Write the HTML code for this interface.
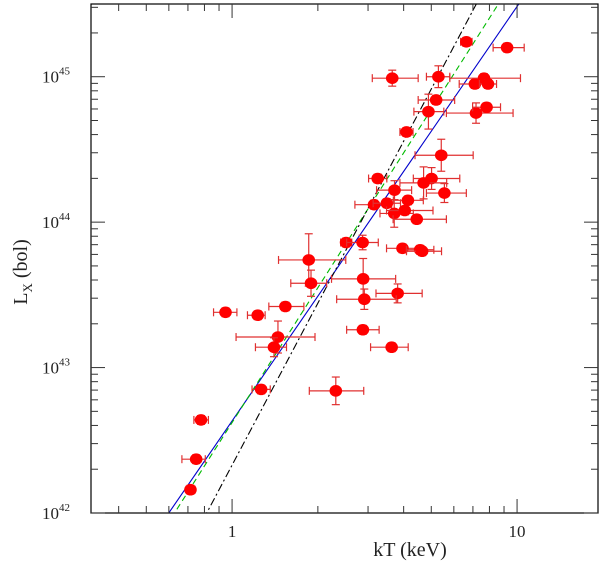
<!DOCTYPE html>
<html><head><meta charset="utf-8"><style>
html,body{margin:0;padding:0;background:#fff;width:600px;height:574px;overflow:hidden;position:relative;}
svg{display:block;position:absolute;left:0;top:0;}
text{font-family:"Liberation Serif",serif;fill:#222;}
</style></head><body>
<svg id="chart" width="600" height="574" viewBox="0 0 600 574" overflow="hidden">
<defs><clipPath id="pc"><rect x="91" y="4" width="507" height="509"/></clipPath></defs>
<g id="lines" clip-path="url(#pc)"></g>
<g id="points"></g>
<g id="axes"></g>
<text x="410" y="556" font-size="20" text-anchor="middle">kT (keV)</text>
<text transform="translate(27,272) rotate(-90)" font-size="20" text-anchor="middle">L<tspan font-size="13" dy="5">X</tspan><tspan dy="-5"> (bol)</tspan></text>
</svg>
<script>
// data (log10 kT, log10 Lx)
const logT = [0.822,0.965,0.562,0.724,0.852,0.884,0.898,0.716,0.689,0.856,0.893,0.612,0.734,0.511,0.700,0.672,0.570,0.745,0.498,0.543,0.617,0.569,0.606,0.648,0.400,0.458,0.598,0.660,0.667,0.269,0.460,0.277,0.581,0.464,0.187,-0.023,0.090,0.459,0.161,0.147,0.560,0.102,0.364,-0.109,-0.126,-0.146];
const logL = [45.24,45.20,44.99,45.00,44.95,44.99,44.95,44.84,44.76,44.75,44.79,44.62,44.46,44.30,44.30,44.27,44.22,44.20,44.12,44.13,44.15,44.06,44.08,44.02,43.86,43.86,43.82,43.81,43.80,43.74,43.61,43.58,43.51,43.47,43.42,43.38,43.36,43.26,43.21,43.14,43.14,42.85,42.84,42.64,42.37,42.16];
// x errors in dex (low, high)
const xErrLo = [0.020,0.049,0.070,0.042,0.055,0.120,0.030,0.063,0.051,0.104,0.049,0.023,0.092,0.032,0.064,0.083,0.063,0.063,0.067,0.048,0.051,0.050,0.064,0.083,0.019,0.056,0.056,0.048,0.055,0.106,0.111,0.071,0.076,0.097,0.058,0.042,0.036,0.057,0.147,0.065,0.074,0.032,0.093,0.025,0.050,0.015];
const xErrHi = [0.020,0.060,0.091,0.040,0.053,0.128,0.030,0.065,0.054,0.130,0.049,0.023,0.112,0.032,0.099,0.081,0.060,0.077,0.062,0.048,0.054,0.067,0.099,0.104,0.020,0.055,0.057,0.048,0.068,0.130,0.114,0.055,0.086,0.112,0.065,0.040,0.026,0.057,0.130,0.044,0.058,0.032,0.098,0.026,0.032,0.016];
// y errors in dex (symmetric approx)
const yErr = [0.03,0.03,0.055,0.075,0.03,0.03,0.03,0.03,0.12,0.07,0.03,0.03,0.11,0.03,0.075,0.11,0.065,0.065,0.03,0.03,0.03,0.095,0.03,0.03,0.03,0.05,0.03,0.03,0.03,0.18,0.14,0.09,0.065,0.07,0.03,0.03,0.03,0.03,0.11,0.065,0.03,0.03,0.095,0.03,0.03,0.03];
// fit lines: slope, intercept (log Lx at log kT = 0)
const lineSlopes = [2.85,3.08,3.70];
const lineIntercepts = [42.633,42.622,42.329];
const lineNames = ['fit-line-blue','fit-line-green-dashed','fit-line-black-dashdot'];
const lineColors = ['#0000cc','#00bb00','#000000'];
const lineDash = ['none','6,4','8,3,2,3'];
const xTickLabels = ['1','10'];
const yTickLabels = ['42','43','44','45'];

const L=91,R=598,T=4,B=513;
const xmin=-0.495,xmax=1.284,ymin=42,ymax=45.5;
const X=v=>L+(v-xmin)/(xmax-xmin)*(R-L);
const Y=v=>B-(v-ymin)/(ymax-ymin)*(B-T);
const NS='http://www.w3.org/2000/svg';
function mk(tag,parent,attrs){const e=document.createElementNS(NS,tag);for(const k in attrs)e.setAttribute(k,attrs[k]);parent.appendChild(e);return e;}

const gl=document.getElementById('lines');
lineSlopes.forEach((s,i)=>{
  const x0=xmin,x1=xmax;
  const l=mk('line',gl,{x1:X(x0),y1:Y(lineIntercepts[i]+s*x0),x2:X(x1),y2:Y(lineIntercepts[i]+s*x1),stroke:lineColors[i],'stroke-width':1.1,'stroke-dasharray':lineDash[i]});
  
  
});

const gp=document.getElementById('points');
logT.forEach((t,i)=>{
  const g=mk('g',gp,{});
  
  
  const cx=X(t),cy=Y(logL[i]);
  const xl=X(t-xErrLo[i]),xh=X(t+xErrHi[i]),yl=Y(logL[i]-yErr[i]),yh=Y(logL[i]+yErr[i]);
  const st={stroke:'#e03030','stroke-width':1.2};
  mk('line',g,Object.assign({x1:xl,y1:cy,x2:xh,y2:cy},st));
  mk('line',g,Object.assign({x1:xl,y1:cy-4,x2:xl,y2:cy+4},st));
  mk('line',g,Object.assign({x1:xh,y1:cy-4,x2:xh,y2:cy+4},st));
  mk('line',g,Object.assign({x1:cx,y1:yl,x2:cx,y2:yh},st));
  mk('line',g,Object.assign({x1:cx-4,y1:yl,x2:cx+4,y2:yl},st));
  mk('line',g,Object.assign({x1:cx-4,y1:yh,x2:cx+4,y2:yh},st));
  mk('ellipse',g,{cx:cx,cy:cy,rx:6.3,ry:5.8,fill:'#ff0000'});
});

const ga=document.getElementById('axes');
mk('rect',ga,{x:L,y:T,width:R-L,height:B-T,fill:'none',stroke:'#000','stroke-width':1.2});
for(let d=-1;d<=1;d++){for(let m=1;m<=9;m++){
  const v=d+Math.log10(m); if(v<xmin||v>xmax)continue;
  const len=m===1?14:7,x=X(v);
  const a=mk('line',ga,{x1:x,y1:B,x2:x,y2:B-len,stroke:'#333','stroke-width':1});
  
  
  mk('line',ga,{x1:x,y1:T,x2:x,y2:T+len,stroke:'#333','stroke-width':1});
}}
xTickLabels.forEach(s=>{
  const t=mk('text',ga,{x:X(Math.log10(+s)),y:B+24,'font-size':17,'text-anchor':'middle'});
  t.textContent=s;
  
  
});
for(let d=42;d<=45;d++){for(let m=1;m<=9;m++){
  const v=d+Math.log10(m); if(v<ymin||v>ymax)continue;
  const len=m===1?14:7,y=Y(v);
  const a=mk('line',ga,{x1:L,y1:y,x2:L+len,y2:y,stroke:'#333','stroke-width':1});
  
  
  mk('line',ga,{x1:R,y1:y,x2:R-len,y2:y,stroke:'#333','stroke-width':1});
}}
yTickLabels.forEach(s=>{
  const t=mk('text',ga,{x:42,y:Y(+s)+6,'font-size':17});
  t.textContent='10';
  const sp=mk('tspan',t,{'font-size':11,dy:-8});
  sp.textContent=s;
  
  
});
</script>
</body></html>
